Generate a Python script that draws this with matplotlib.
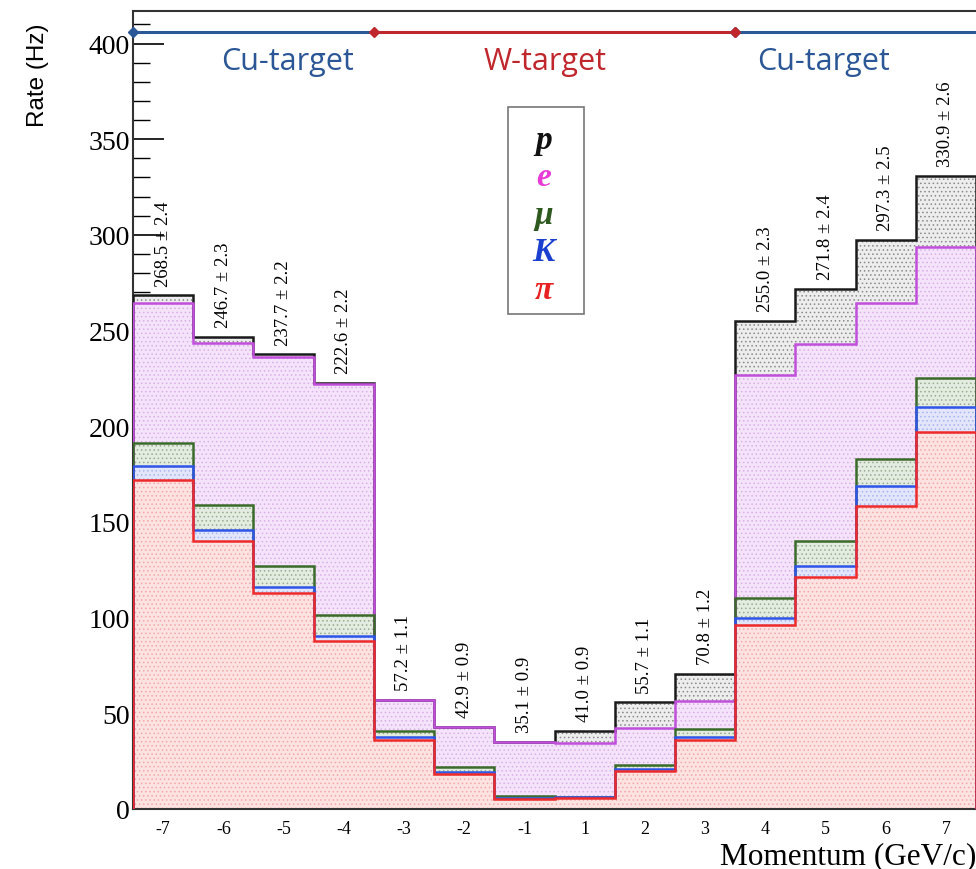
import matplotlib
matplotlib.use("Agg")
import matplotlib.pyplot as plt
import numpy as np

# momentum bins (GeV/c) and per-species rates (Hz), stacked pi -> K -> mu -> e -> p
momentum = [-7, -6, -5, -4, -3, -2, -1, 1, 2, 3, 4, 5, 6, 7]
rate_pi = [172, 140, 113, 88, 36, 18.5, 5, 6, 20, 36, 96, 121, 158.5, 197]
rate_K = [7, 6, 3, 2.5, 1.5, 1, 0.5, 0.2, 1, 1.5, 4, 6, 10.5, 13]
rate_mu = [12.5, 13, 11, 11, 3.5, 2.5, 1.5, 0.3, 1.8, 4.3, 10, 13, 14, 15]
rate_e = [73, 84.5, 109, 120.5, 15.8, 20.7, 28, 27.9, 19.7, 14.8, 117, 103, 81.5, 68.8]
rate_p = [4, 3.2, 1.7, 0.6, 0.4, 0.2, 0.1, 6.6, 13.2, 14.2, 28, 28.8, 32.8, 37.1]
total_err = [2.4, 2.3, 2.2, 2.2, 1.1, 0.9, 0.9, 0.9, 1.1, 1.2, 2.3, 2.4, 2.5, 2.6]

# target regions: (label, first bin momentum, last bin momentum, label x in bin units)
targets = [("Cu-target", -7, -4, 2.07), ("W-target", -3, 3, 6.34), ("Cu-target", 4, 7, 10.96)]
target_colors = {"Cu-target": "#2b5797", "W-target": "#c0272d"}

species = ["pi", "K", "mu", "e", "p"]
legend_sym = {"p": "p", "e": "e", "mu": "μ", "K": "K", "pi": "π"}
legend_col = {"p": "#111111", "e": "#e83ad6", "mu": "#2f5a1f", "K": "#1b3fcf", "pi": "#e82020"}
line_col = {"pi": "#ee2a2a", "K": "#2f55e8", "mu": "#3b6b2b", "e": "#c24fdc", "p": "#1a1a1a"}
face_col = {"pi": "#fde2e2", "K": "#e3e6fb", "mu": "#e4ece1", "e": "#f5e3fb", "p": "#ededed"}
hatch_col = {"pi": "#f2a8a8", "K": "#a8b4f0", "mu": "#98ac90", "e": "#d9b0e6", "p": "#8a8a8a"}

plt.rcParams["hatch.linewidth"] = 0.6

fig = plt.figure(figsize=(9.76, 8.70), dpi=100)
ax = fig.add_axes([133 / 976, 60 / 870, 843 / 976, 798 / 870])

n = len(momentum)
idx = np.arange(n)
edges = np.arange(n + 1) - 0.5

stack = np.cumsum(np.array([rate_pi, rate_K, rate_mu, rate_e, rate_p]), axis=0)

# ROOT-like: every cumulative histogram filled from zero, largest drawn first
for k in range(len(species) - 1, -1, -1):
    s = species[k]
    ax.stairs(stack[k], edges, fill=True, facecolor=face_col[s],
              edgecolor=hatch_col[s], linewidth=0, hatch="....", zorder=2)
    ax.stairs(stack[k], edges, color=line_col[s], linewidth=1.8, zorder=3)

# totals above each bin
total = stack[-1]
for i in idx:
    ax.text(i, total[i] + 5, f"{total[i]:.1f} ± {total_err[i]}", rotation=90,
            ha="center", va="bottom", fontsize=13.5, family="Liberation Serif", zorder=5)

# target bands at the top
pos = {m: i for i, m in enumerate(momentum)}
for name, m0, m1, xl in targets:
    x0 = pos[m0] - 0.5
    x1 = pos[m1] + 0.5
    c = target_colors[name]
    ax.plot([x0, x1], [406, 406], color=c, linewidth=2.2, zorder=6, clip_on=False)
    ax.plot([x0], [406], marker="D", markersize=5, color=c, zorder=7, clip_on=False)
    ax.text(xl, 391, name, color=c, ha="center", va="center",
            fontsize=22, family="Open Sans", zorder=7)
ax.plot([pos[3] + 0.5], [406], marker="D", markersize=5, color=target_colors["W-target"],
        zorder=7, clip_on=False)

# legend box
leg_x, leg_y = 0.487, 0.839
ax.add_patch(plt.Rectangle((0.445, 0.62), 0.09, 0.26, transform=ax.transAxes,
                           facecolor="white", edgecolor="#777777", linewidth=1.2, zorder=8))
for j, s in enumerate(["p", "e", "mu", "K", "pi"]):
    ax.text(leg_x, leg_y - j * 0.047, legend_sym[s], color=legend_col[s],
            transform=ax.transAxes, ha="center", va="center", fontsize=24,
            family="Liberation Serif", style="italic", fontweight="bold", zorder=9)

ax.set_xlim(-0.5, n - 0.5)
ax.set_ylim(0, 417)
ax.set_xticks(idx)
ax.set_xticklabels([str(m) for m in momentum], family="Liberation Serif", fontsize=13)
ax.set_yticks(np.arange(0, 401, 50))
ax.set_yticks(np.arange(0, 411, 10), minor=True)
ax.set_yticklabels([str(v) for v in range(0, 401, 50)], family="Liberation Serif", fontsize=20)
ax.tick_params(axis="x", direction="in", length=14, width=1.2, pad=8, top=False)
ax.tick_params(axis="y", which="major", direction="in", length=22, width=1.2, pad=2)
ax.tick_params(axis="y", which="minor", direction="in", length=12, width=1.0)
ax.tick_params(axis="x", which="minor", bottom=False)
for side in ["left", "bottom", "top"]:
    ax.spines[side].set_linewidth(1.5)
    ax.spines[side].set_color("#333333")
ax.spines["right"].set_visible(False)

fig.text(38 / 976, 1 - 75 / 870, "Rate (Hz)", rotation=90, ha="center", va="center",
         fontsize=17.5, family="Liberation Sans")
fig.text(976 / 976, 1 - 857 / 870, "Momentum (GeV/c)", ha="right", va="center",
         fontsize=22.5, family="Liberation Serif")

fig.savefig("out.png", dpi=100)
